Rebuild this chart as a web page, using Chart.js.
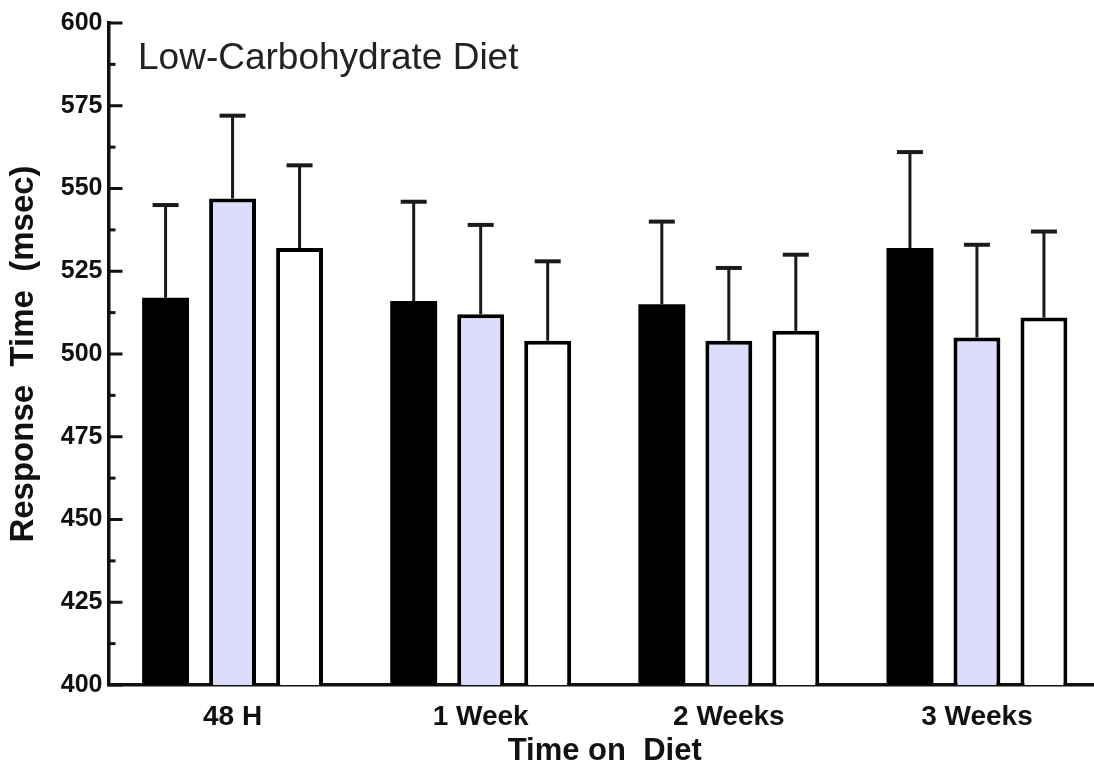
<!DOCTYPE html>
<html>
<head>
<meta charset="utf-8">
<script src="https://cdn.jsdelivr.net/npm/chart.js@4.4.0/dist/chart.umd.min.js"></script>
<style>
  html, body { margin: 0; padding: 0; overflow: hidden; background: #fff; }
  canvas { display: block; filter: blur(0.5px); }
</style>
</head>
<body>
<canvas id="chart" width="1101" height="770"></canvas>
<script>
// Reaction times (msec) per diet phase, three groups
const categories = ['48 H', '1 Week', '2 Weeks', '3 Weeks'];
const groupBlack = [517, 516, 515, 532];
const groupLavender = [547, 512, 504, 505];
const groupWhite = [532, 504, 507, 511];
// Upper error (SD) above each mean
const errBlack = [28, 30, 25, 29];
const errLavender = [25, 27, 22, 28];
const errWhite = [25, 24, 23, 26];
// Axis ticks
const yTicks = [400, 425, 450, 475, 500, 525, 550, 575, 600];
const yMinorTicks = [412.5, 437.5, 462.5, 487.5, 512.5, 537.5, 562.5, 587.5];
const chartTitle = 'Low-Carbohydrate Diet';

const INK = '#111';
const FONT = '"Liberation Sans", Arial, Helvetica, sans-serif';

// Upward error whiskers with caps
const errorBars = {
  id: 'errorBars',
  afterDatasetsDraw(chart) {
    const { ctx, scales: { y } } = chart;
    chart.data.datasets.forEach((ds, di) => {
      const meta = chart.getDatasetMeta(di);
      meta.data.forEach((bar, i) => {
        const base = y.getPixelForValue(ds.data[i]);
        const tip = y.getPixelForValue(ds.data[i] + ds.errors[i]);
        ctx.save();
        ctx.strokeStyle = '#1a1a1a';
        ctx.lineWidth = 3;
        ctx.beginPath();
        ctx.moveTo(bar.x, base);
        ctx.lineTo(bar.x, tip);
        ctx.stroke();
        ctx.lineWidth = 4;
        ctx.beginPath();
        ctx.moveTo(bar.x - 13, tip);
        ctx.lineTo(bar.x + 13, tip);
        ctx.stroke();
        ctx.restore();
      });
    });
  }
};

// Inward major/minor tick marks on the value axis, plus the inset title
const axisDecor = {
  id: 'axisDecor',
  afterDraw(chart) {
    const { ctx, scales: { y }, chartArea } = chart;
    const x0 = chartArea.left;
    ctx.save();
    ctx.strokeStyle = INK;
    ctx.lineWidth = 3;
    yTicks.forEach(v => {
      const py = y.getPixelForValue(v);
      ctx.beginPath(); ctx.moveTo(x0, py); ctx.lineTo(x0 + 14, py); ctx.stroke();
    });
    yMinorTicks.forEach(v => {
      const py = y.getPixelForValue(v);
      ctx.beginPath(); ctx.moveTo(x0, py); ctx.lineTo(x0 + 7, py); ctx.stroke();
    });
    ctx.fillStyle = '#222';
    ctx.font = '37px ' + FONT;
    ctx.textAlign = 'left';
    ctx.textBaseline = 'alphabetic';
    ctx.fillText(chartTitle, chartArea.left + 29.5, 69);
    ctx.restore();
  }
};

const barStyle = { borderColor: '#000', borderWidth: 4, categoryPercentage: 0.81, barPercentage: 0.70 };

new Chart(document.getElementById('chart'), {
  type: 'bar',
  data: {
    labels: categories,
    datasets: [
      Object.assign({ label: 'Group 1', data: groupBlack, errors: errBlack, backgroundColor: '#000' }, barStyle, { borderWidth: 0 }),
      Object.assign({ label: 'Group 2', data: groupLavender, errors: errLavender, backgroundColor: '#dcddfa' }, barStyle),
      Object.assign({ label: 'Group 3', data: groupWhite, errors: errWhite, backgroundColor: '#fff' }, barStyle)
    ]
  },
  options: {
    responsive: false,
    devicePixelRatio: 1,
    animation: false,
    layout: { padding: { top: 23, right: 0, bottom: 0, left: 0 } },
    plugins: { legend: { display: false }, tooltip: { enabled: false }, title: { display: false } },
    scales: {
      x: {
        afterFit: s => { s.height = 85; },
        grid: { display: false, drawTicks: false },
        border: { display: true, color: INK, width: 3.5 },
        ticks: { font: { family: FONT, size: 28, weight: 'bold' }, color: INK, padding: 15 },
        title: {
          display: true, text: 'Time on  Diet', color: INK,
          font: { family: FONT, size: 31, weight: 'bold' },
          padding: { top: 0, bottom: 0 }
        }
      },
      y: {
        min: 400, max: 600,
        afterBuildTicks: s => { s.ticks = yTicks.map(v => ({ value: v })); },
        afterFit: s => { s.width = 108.5; },
        grid: { display: false, drawTicks: false },
        border: { display: true, color: INK, width: 3.5 },
        ticks: { font: { family: FONT, size: 25, weight: 'bold' }, color: INK, padding: 6 },
        title: {
          display: true, text: 'Response  Time  (msec)', color: INK,
          font: { family: FONT, size: 33, weight: 'bold' },
          padding: { top: 4, bottom: 0 }
        }
      }
    }
  },
  plugins: [errorBars, axisDecor]
});
</script>
</body>
</html>
